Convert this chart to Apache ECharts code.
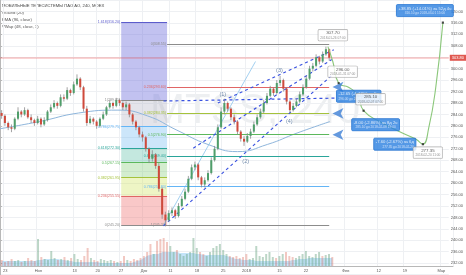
<!DOCTYPE html>
<html><head><meta charset="utf-8">
<script src="https://cdn.jsdelivr.net/npm/echarts@6/dist/echarts.min.js"></script>
<style>html,body{margin:0;padding:0;background:#fff}#c{width:466px;height:275px}</style>
</head><body><div id="c"></div>
<script>
const SLOTS = 137;
const tickIdx = [1, 11, 22, 29, 36, 43, 51, 59, 67, 74, 84, 92, 104, 114, 122, 133];
const tickTxt = ['23', 'Ноя', '13', '20', '27', 'Дек', '11', '18', '25', '2018', '15', '22', 'Фев', '12', '19', 'Мар'];

// [open, close, low, high]
const candles = [
[284.5,283.5,282.5,285.5],[283.5,281.0,280.0,284.0],[281.0,279.5,278.5,281.5],[279.5,279.0,277.8,280.5],
[279.0,282.5,278.5,283.0],[282.5,285.0,282.0,286.5],[285.0,284.0,283.0,285.5],[284.0,285.5,283.5,286.5],
[285.5,283.0,282.5,286.0],[283.0,282.0,281.0,284.0],[282.0,281.0,280.0,282.5],[281.0,282.5,280.5,283.5],
[282.5,280.5,279.5,283.0],[280.5,282.0,280.0,283.0],[282.0,285.0,281.5,285.5],[285.0,286.5,284.5,287.5],
[286.5,288.0,286.0,289.0],[288.0,287.0,286.0,288.5],[287.0,290.0,286.5,291.0],[290.0,289.5,288.5,291.0],
[289.5,292.5,289.0,293.5],[292.5,291.5,290.5,293.0],[291.5,294.5,291.0,295.5],[294.5,296.5,294.0,298.0],
[296.5,293.5,292.5,297.0],[293.5,286.0,285.0,294.0],[286.0,281.0,280.0,287.0],[281.0,282.5,280.5,283.5],
[282.5,281.5,280.5,283.0],[281.5,280.0,279.0,282.0],[280.0,282.5,279.5,283.0],[282.5,284.0,282.0,285.0],
[284.0,286.5,283.5,287.0],[286.5,288.0,286.0,289.0],[288.0,287.0,286.0,288.5],[287.0,289.0,286.5,289.8],
[289.0,288.0,287.0,289.5],[288.0,286.5,285.5,288.5],[286.5,287.5,285.5,288.5],[287.5,284.0,283.0,288.0],
[284.0,281.5,280.5,284.5],[281.5,279.5,278.5,282.0],[279.5,277.0,276.0,280.0],[277.0,276.0,274.5,278.0],
[276.0,272.0,271.0,276.5],[272.0,268.5,267.0,272.5],[268.5,270.0,267.5,271.5],[270.0,266.0,265.0,270.5],
[266.0,258.0,257.0,267.0],[258.0,249.0,247.5,258.5],[249.0,247.0,245.2,250.0],[247.0,249.5,246.5,250.5],
[249.5,250.5,248.5,251.5],[250.5,248.5,247.5,251.0],[248.5,252.0,248.0,253.0],[252.0,254.5,251.5,255.5],
[254.5,257.0,254.0,258.0],[257.0,261.5,256.5,262.5],[261.5,265.5,261.0,266.5],[265.5,266.5,264.5,267.5],
[266.5,262.0,261.0,267.0],[262.0,259.5,258.5,262.5],[259.5,261.0,258.5,262.0],[261.0,263.5,260.5,264.5],
[263.5,268.0,263.0,269.0],[268.0,272.0,267.5,273.0],[272.0,279.5,271.5,280.5],[279.5,285.0,279.0,286.5],
[285.0,288.0,284.0,289.5],[288.0,286.0,285.0,288.5],[286.0,283.0,282.0,286.5],[283.0,281.5,280.5,284.0],
[281.5,278.0,277.0,282.0],[278.0,275.5,274.5,278.5],[275.5,274.5,273.0,276.5],[274.5,276.5,274.0,277.5],
[276.5,278.0,275.5,279.0],[278.0,280.5,277.5,281.5],[280.5,283.0,280.0,284.0],[283.0,285.0,282.5,286.0],
[285.0,288.0,284.5,289.0],[288.0,290.5,287.5,291.5],[290.5,293.0,290.0,294.0],[293.0,291.5,290.5,293.5],
[291.5,295.0,291.0,296.0],[295.0,296.0,294.0,297.5],[296.0,293.0,292.0,296.5],[293.0,288.5,287.5,293.5],
[288.5,285.5,284.5,289.0],[285.5,287.0,285.0,288.0],[287.0,288.5,286.5,289.5],[288.5,291.0,288.0,292.0],
[291.0,293.5,290.5,294.5],[293.5,296.5,293.0,297.5],[296.5,300.0,296.0,301.0],[300.0,301.0,299.0,302.0],
[301.0,304.0,300.5,305.0],[304.0,302.5,301.5,304.5],[302.5,305.0,302.0,306.0],[305.0,306.8,304.5,307.7],
[306.8,303.8,302.8,307.0]
];
const volumes = [6,4,5,7,5,6,4,5,8,6,5, 27,9,7,6,15,8,6,7,9,6,8, 12,7,6,10,18,8,6,5,7,6,5,
 6,5,4,5,10,6,5,7,6,8,10, 14,22,12,25,27,28,24,20,14,16,12, 10,12,14,28,18,14,12,10,14,18,20,
 22,16,12,10,9,10,8,9,12,7,8, 20,10,9,12,14,9,8,10,12,14,10, 9,8,10,12,15,10,9,12,14,10,11,12,9];
const volumeMA = [5,5,5,5,5,5,5,5,5,5,5, 6,6,7,7,7,7,7,6,6,5,5, 4,4,4,4,4,4,4,4,3,3,3,
 3,3,3,3,3,3,3,4,5,6,8, 10,11,12,12,13,14,14,14,14,14,13, 13,13,13,13,12,12,11,11,11,11,11,
 11,11,10,9,8,7,7,6,6,6,6, 5,5,5,5,5,5,5,5,5,5,5, 6,6,7,7,7,8,8,8,8,8,8,8,8];
// EMA (96) path [slot, price]
const emaPts = [[0,279],[12,281.5],[24,284.5],[36,285.5],[45,283.5],[54,278.5],[63.5,273.5],[72.5,271],[81.6,273.5],[90.7,277.5],[100.7,281.5]];

// Fibonacci A (filled box)
const fibA_x = [37, 51];
const fibA_lv = ['0(245.20)','0.236(255.55)','0.382(261.95)','0.5(267.15)','0.618(272.30)','0.786(279.75)','1(289.05)','1.618(316.20)'];
const fibA_p = [245.20, 255.55, 261.95, 267.15, 272.30, 279.75, 289.05, 316.20];
// Fibonacci B (lines)
const fibB_x = [51, 100.5];
const fibB_lv = ['0(308.55)','0.236(293.60)','0.382(284.35)','0.5(276.90)','0.618(269.40)','0.786(258.80)','1(245.20)'];
const fibB_p = [308.55, 293.60, 284.35, 276.90, 269.40, 258.80, 245.20];

// dashed channel lines [[slot,price],[slot,price]]
const dashLines = [
 [[49.9,245.06],[101.3,297.66]],
 [[59.0,272.2],[101.3,303.2]],
 [[66.5,288.0],[101.9,306.6]],
 [[49.9,288.7],[102.8,289.7]]
];
const trendLine = [[49.9,245.2],[78,302.5]];
// projection path
const projPts = [[100.1,307.7],[101.6,302.5],[103.4,294.9],[106.4,293.5],[109.2,290.8],[111.0,285.3],[116.4,281.2],[122.5,277.7],[127,275.3],[129.1,273.6],[130.9,279.4],[133.0,293.2],[135.2,316.1]];
const projMarks = [[103.4,294.9],[111.0,285.3],[129.1,273.6],[135.2,316.1]];
const arrows = [[101.5,293.60],[101.5,284.35],[101.5,276.90]];
const waves = [[68,291,'(1)'],[75,267.5,'(2)'],[85.3,299.5,'(3)'],[88.3,281.5,'(4)']];

const fibLineCol = ['#8c8c8c','#e06666','#a5c23c','#5cb85c','#2aa59a','#64b5f6','#8c8c8c','#5c5ccc'];
const fibFillCol = ['rgba(240,110,110,0.38)','rgba(205,225,90,0.35)','rgba(120,200,110,0.33)','rgba(60,180,150,0.30)','rgba(100,180,240,0.33)','rgba(170,170,190,0.32)','rgba(110,110,220,0.42)'];

const chart = echarts.init(document.getElementById('c'), null, {renderer:'canvas'});
const cats = Array.from({length: SLOTS}, (_, i) => String(i));
const tickMap = {}; tickIdx.forEach((k, j) => tickMap[k] = tickTxt[j]);

const candleData = candles.map((c, i) => [i, c[0], c[1], c[2], c[3]]);
const volData = volumes.map((v, i) => ({value: v, itemStyle: {color: candles[i][1] >= candles[i][0] ? 'rgba(107,165,131,0.45)' : 'rgba(215,84,66,0.32)'}}));

const fibAreas = [];
for (let k = 0; k < fibA_p.length - 1; k++) {
  fibAreas.push([{coord:[fibA_x[0], fibA_p[k]], itemStyle:{color: fibFillCol[k]}}, {coord:[fibA_x[1], fibA_p[k+1]]}]);
}
const fibALines = fibA_p.map((p, k) => [{coord:[fibA_x[0], p], lineStyle:{color: fibLineCol[k], width:1, type:'solid'}, label:{show:true, position:'start', formatter: fibA_lv[k], color: fibLineCol[k], fontSize:3.6, distance:1}}, {coord:[fibA_x[1], p]}]);
const bCol = ['#8c8c8c','#e06666','#a5c23c','#5cb85c','#2aa59a','#64b5f6','#8c8c8c'];
const fibBLines = fibB_p.map((p, k) => [{coord:[fibB_x[0], p], lineStyle:{color: bCol[k], width:1, type:'solid'}, label:{show:true, position:'start', formatter: fibB_lv[k], color: bCol[k], fontSize:3.6, distance:1}}, {coord:[fibB_x[1], p]}]);

const whiteBox = {backgroundColor:'#fff', borderColor:'#9a9a9a', borderWidth:0.6, padding:[1,2], borderRadius:1,
  rich:{a:{fontSize:4.4, color:'#333', lineHeight:5}, b:{fontSize:3.2, color:'#777', lineHeight:4}}};
const blueBox = {backgroundColor:'#2a7fe0', borderColor:'#1e6cc8', borderWidth:0.5, padding:[1.5,2], borderRadius:1,
  rich:{a:{fontSize:4.2, color:'#fff', lineHeight:5}, b:{fontSize:3.2, color:'#e8f1ff', lineHeight:4}}};
function callout(pt, box, a, b, pos, off){
  return {value: pt, label: Object.assign({show:true, position:pos, offset:off, formatter:'{a|'+a+'}\n{b|'+b+'}'}, box)};
}
const callouts = [
  callout([100.1,307.7], whiteBox, '307.70', '2018-01-26 07:00', 'top', [5,-1]),
  callout([103.4,294.9], whiteBox, '296.00', '2018-01-31 07:00', 'top', [4,-1]),
  callout([103.4,294.9], blueBox, '-12.65 (-4.47%) за 5д', '296.00 до 2018-01-31 07:00', 'bottom', [20,2]),
  callout([111.0,285.3], whiteBox, '285.10', '2018-02-07 07:00', 'top', [7,-1]),
  callout([111.0,285.3], blueBox, '-8.00 (-2.86%) за 8д 2ч', '285.10 до 2018-02-08 19:00', 'bottom', [12,3]),
  callout([129.1,273.6], blueBox, '-7.60 (-2.67%) за 6д', '277.35 до 2018-02-20', 'left', [-2,0]),
  callout([129.1,273.6], whiteBox, '277.35', '2018-02-20 11:00', 'bottom', [5,-2]),
  callout([135.2,316.1], blueBox, '+38.85 (+14.01%) за 52д 4ч', '316.10 до 2018-03-01 15:00', 'top', [-18,-1])
];

const option = {
  animation: false,
  backgroundColor: '#ffffff',
  textStyle: {fontFamily: 'Arial, Liberation Sans, sans-serif'},
  grid: [
    {left:0, right:13, top:-4.636, height:279.27},
    {left:0, right:13, top:235, bottom:9},
    {left:0, right:13, top:0, bottom:9}
  ],
  xAxis: [
    {type:'category', gridIndex:0, data:cats, boundaryGap:true, show:false},
    {type:'value', gridIndex:0, min:0, max:SLOTS, show:false},
    {type:'category', gridIndex:1, data:cats, boundaryGap:true, show:false},
    {type:'category', gridIndex:2, data:cats, boundaryGap:true,
      axisLine:{show:true, lineStyle:{color:'#b8b8b8', width:1}}, axisTick:{show:false},
      axisLabel:{interval:(i)=> tickMap[i] !== undefined, formatter:(v, i)=> tickMap[i] || '', fontSize:4, color:'#555', margin:3},
      splitLine:{show:true, interval:(i)=> tickMap[i] !== undefined, lineStyle:{color:'#eef0f3', width:1}}}
  ],
  yAxis: [
    {type:'value', gridIndex:0, position:'right', min:228, max:324, interval:4,
      axisLine:{show:true, lineStyle:{color:'#b8b8b8'}}, axisTick:{show:true, length:2, lineStyle:{color:'#b8b8b8'}},
      axisLabel:{formatter:(v)=> v.toFixed(2), fontSize:4, color:'#555', margin:2, showMinLabel:false, showMaxLabel:false},
      splitLine:{show:true, lineStyle:{color:'#eef0f3', width:1}}},
    {type:'value', gridIndex:1, min:0, max:31, show:false},
    {type:'value', gridIndex:2, show:false}
  ],
  graphic: [
    {type:'text', left:2, top:4, style:{text:'МОБИЛЬНЫЕ ТЕЛЕСИСТЕМЫ ПАО АО, 240, MOEX', fontSize:4.2, fill:'#444', fontFamily:'Arial'}},
    {type:'text', left:2, top:11, style:{text:'Объем (20)', fontSize:4.2, fill:'#555', fontFamily:'Arial'}},
    {type:'text', left:2, top:18, style:{text:'EMA (96, close)', fontSize:4.2, fill:'#555', fontFamily:'Arial'}},
    {type:'text', left:2, top:25, style:{text:'VWap (48, close, 3)', fontSize:4.2, fill:'#555', fontFamily:'Arial'}},
    {type:'text', left:150, top:90, z:-1, style:{text:'MTSS, 240', fontSize:42, fill:'rgba(110,120,140,0.12)', fontFamily:'Arial'}}
  ],
  series: [
    {type:'bar', xAxisIndex:2, yAxisIndex:1, data:volData, barWidth:'60%', z:1},
    {type:'line', xAxisIndex:2, yAxisIndex:1, data:volumeMA, symbol:'none', smooth:true, lineStyle:{width:0}, areaStyle:{color:'rgba(70,170,235,0.45)'}, z:1},
    {type:'line', xAxisIndex:1, yAxisIndex:0, data:[], symbol:'none', z:2,
      markArea:{silent:true, data: fibAreas},
      markLine:{silent:true, symbol:['none','none'], data: fibALines.concat(fibBLines)}},
    {type:'line', xAxisIndex:1, yAxisIndex:0, data:[], symbol:'none', z:3,
      markLine:{silent:true, symbol:['none','none'], data:[
        {yAxis:303.8, lineStyle:{color:'rgba(239,83,80,0.35)', width:1.5, type:'solid'}, label:{show:true, position:'end', formatter:'303.80', backgroundColor:'#e0574f', color:'#fff', fontSize:4, padding:[1,2], distance:1}},
        {yAxis:260.0, lineStyle:{opacity:0}, label:{show:true, position:'end', formatter:'260.00', backgroundColor:'#4a4a4a', color:'#fff', fontSize:4, padding:[1,2], distance:1}},
        {yAxis:234.28, lineStyle:{opacity:0}, label:{show:true, position:'end', formatter:'234.28', backgroundColor:'#ff1a1a', color:'#fff', fontSize:4, padding:[1,2], distance:1}}
      ]}},
    {type:'line', xAxisIndex:1, yAxisIndex:0, data:emaPts, symbol:'none', smooth:true, lineStyle:{color:'#8fb6dc', width:1}, z:4},
    {type:'line', xAxisIndex:1, yAxisIndex:0, data:trendLine, symbol:'none', lineStyle:{color:'#8cc4ec', width:0.8}, z:4},
    ...dashLines.map(d => ({type:'line', xAxisIndex:1, yAxisIndex:0, data:d, symbol:'none', lineStyle:{color:'#3a52e0', width:1.2, type:[3,3]}, z:5})),
    {type:'custom', xAxisIndex:0, yAxisIndex:0, data:candleData, z:6, encode:{x:0, y:[1,2,3,4]},
      renderItem:(params, api) => {
        const i = api.value(0), o = api.value(1), c = api.value(2), l = api.value(3), h = api.value(4);
        const pO = api.coord([i, o]), pC = api.coord([i, c]), pL = api.coord([i, l]), pH = api.coord([i, h]);
        const w = Math.max(1.2, api.size([1, 0])[0] * 0.62);
        const x = pO[0];
        const up = c >= o;
        return {type:'group', children:[
          {type:'line', shape:{x1:x, y1:pH[1], x2:x, y2:pL[1]}, style:{stroke:'#8a8a8c', lineWidth:0.8}},
          {type:'rect', shape:{x:x - w/2, y:Math.min(pO[1], pC[1]), width:w, height:Math.max(0.8, Math.abs(pO[1] - pC[1]))}, style:{fill: up ? '#4f9e6a' : '#cf4a3c'}}
        ]};
      }},
    {type:'line', xAxisIndex:1, yAxisIndex:0, data:projPts, symbol:'none', smooth:0.5, lineStyle:{color:'#8bc77a', width:1.1}, z:7},
    {type:'scatter', xAxisIndex:1, yAxisIndex:0, data:projMarks, symbol:'rect', symbolSize:2.2, itemStyle:{color:'#222'}, z:8},
    {type:'scatter', xAxisIndex:1, yAxisIndex:0, data:arrows, symbol:'arrow', symbolRotate:90, symbolSize:[8,11], itemStyle:{color:'#3d7fd6'}, z:8},
    {type:'scatter', xAxisIndex:1, yAxisIndex:0, data:waves.map(w => ({value:[w[0], w[1]], label:{show:true, formatter:w[2], position:'inside', fontSize:5.5, color:'#4c6d96'}})), symbolSize:0, z:8},
    {type:'scatter', xAxisIndex:1, yAxisIndex:0, data:callouts, symbolSize:0, z:9}
  ]
};
chart.setOption(option);
</script></body></html>
